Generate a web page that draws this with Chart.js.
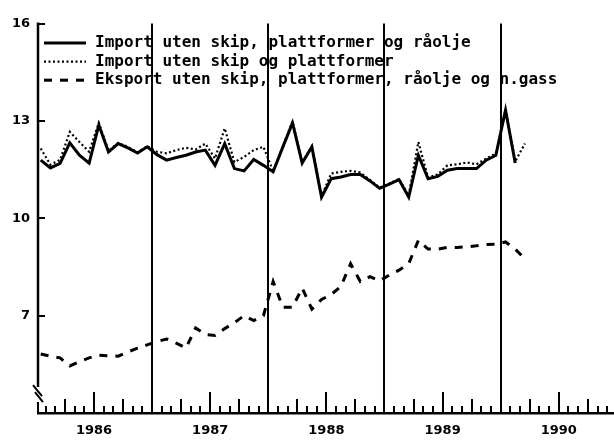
<!DOCTYPE html>
<html><head><meta charset="utf-8">
<script src="https://cdn.jsdelivr.net/npm/chart.js@4/dist/chart.umd.min.js"></script>
<style>html,body{margin:0;padding:0;background:#fff;}canvas{display:block;}</style>
</head><body>
<canvas id="c" width="614" height="441"></canvas>
<script>
// Months, Jan 1986 .. Mar 1990
const months = [
 '1986-01','1986-02','1986-03','1986-04','1986-05','1986-06','1986-07','1986-08','1986-09','1986-10','1986-11','1986-12',
 '1987-01','1987-02','1987-03','1987-04','1987-05','1987-06','1987-07','1987-08','1987-09','1987-10','1987-11','1987-12',
 '1988-01','1988-02','1988-03','1988-04','1988-05','1988-06','1988-07','1988-08','1988-09','1988-10','1988-11','1988-12',
 '1989-01','1989-02','1989-03','1989-04','1989-05','1989-06','1989-07','1989-08','1989-09','1989-10','1989-11','1989-12',
 '1990-01','1990-02','1990-03'
];
const importExShipsPlatformsOil = [
 11.79, 11.55, 11.69, 12.32, 11.94, 11.70, 12.87, 12.04, 12.30, 12.17, 12.01, 12.20,
 11.96, 11.79, 11.87, 11.94, 12.04, 12.10, 11.63, 12.30, 11.53, 11.46, 11.81, 11.63,
 11.43, 12.19, 12.94, 11.70, 12.20, 10.65, 11.22, 11.27, 11.35, 11.35, 11.15, 10.92,
 11.05, 11.19, 10.65, 11.94, 11.22, 11.29, 11.48, 11.53, 11.53, 11.53, 11.79, 11.94,
 13.33, 11.70, null
];
const importExShipsPlatforms = [
 12.15, 11.65, 11.80, 12.66, 12.35, 12.05, 12.94, 12.08, 12.32, 12.20, 12.03, 12.22,
 12.05, 12.00, 12.10, 12.17, 12.12, 12.30, 11.84, 12.77, 11.73, 11.89, 12.10, 12.20,
 11.45, 12.20, 12.99, 11.72, 12.22, 10.68, 11.38, 11.43, 11.46, 11.41, 11.18, 10.94,
 11.07, 11.21, 10.70, 12.35, 11.25, 11.35, 11.63, 11.66, 11.72, 11.66, 11.84, 11.99,
 13.35, 11.75, 12.30
];
const exportExShipsPlatformsOilGas = [
 5.82, 5.75, 5.70, 5.45, 5.58, 5.70, 5.78, 5.76, 5.75, 5.88, 6.00, 6.10,
 6.20, 6.28, 6.15, 6.00, 6.62, 6.42, 6.39, 6.60, 6.78, 7.00, 6.85, 7.00,
 8.05, 7.26, 7.26, 7.85, 7.20, 7.50, 7.65, 7.90, 8.60, 8.05, 8.20, 8.07,
 8.25, 8.40, 8.60, 9.32, 9.05, 9.05, 9.10, 9.10, 9.12, 9.15, 9.19, 9.20,
 9.27, 9.05, 8.75
];
const seriesLabels = [
 'Import uten skip, plattformer og råolje',
 'Import uten skip og plattformer',
 'Eksport uten skip, plattformer, råolje og n.gass'
];
const yearLabels = ['1986', '1987', '1988', '1989', '1990'];
const yTickValues = [7, 10, 13, 16];

// month position (months since Jan 1986, mid-month)
function monthPos(s) {
  const [yy, mm] = s.split('-').map(Number);
  return (yy - 1986) * 12 + (mm - 1) + 0.5;
}
function toPoints(vals) {
  return months.map((m, i) => ({ x: monthPos(m), y: vals[i] }));
}

const FONT_NUM = { family: 'DejaVu Sans', weight: 'bold', size: 13 };

const axisMarks = {
  id: 'axisMarks',
  afterDraw(chart) {
    const { ctx, chartArea: a, scales: { x, y } } = chart;
    const line = (x1, y1, x2, y2) => { ctx.beginPath(); ctx.moveTo(x1, y1); ctx.lineTo(x2, y2); ctx.stroke(); };
    ctx.save();
    ctx.strokeStyle = '#000';
    ctx.lineCap = 'butt';
    ctx.lineWidth = 2;
    for (let m = Math.ceil(x.min); m <= x.max; m++) {
      const r = m % 12;
      if (r === 0) continue;
      const px = Math.round(x.getPixelForValue(m));
      const len = r === 6 ? 21 : (r === 3 || r === 9) ? 14 : 7;
      line(px, a.bottom, px, a.bottom - len);
    }
    yTickValues.forEach(v => {
      const py = Math.round(y.getPixelForValue(v));
      line(a.left, py, a.left + 7, py);
    });
    ctx.lineWidth = 2.5;
    const breakTop = y.getPixelForValue(4.8);
    line(a.left, a.top - 1, a.left, breakTop);
    ctx.lineWidth = 2;
    line(a.left - 5, breakTop - 2, a.left + 4, breakTop + 9);
    line(a.left - 3, breakTop + 5, a.left + 5, breakTop + 15);
    line(a.left, breakTop + 15, a.left, a.bottom);
    ctx.restore();
  }
};

const insideLegend = {
  id: 'insideLegend',
  afterDatasetsDraw(chart) {
    const { ctx, chartArea: a } = chart;
    ctx.save();
    ctx.font = 'bold 16px "DejaVu Sans Mono"';
    ctx.fillStyle = '#000';
    ctx.textBaseline = 'middle';
    ctx.textAlign = 'left';
    chart.data.datasets.forEach((ds, k) => {
      const yy = a.top + 19.5 + k * 18.6;
      const x0 = a.left + 6;
      ctx.strokeStyle = ds.borderColor;
      ctx.lineWidth = ds.borderWidth;
      ctx.setLineDash(ds.borderDash || []);
      ctx.beginPath(); ctx.moveTo(x0, yy); ctx.lineTo(x0 + 42, yy); ctx.stroke();
      ctx.setLineDash([]);
      ctx.fillText(ds.label, a.left + 57, yy);
    });
    ctx.restore();
  }
};

new Chart(document.getElementById('c'), {
  type: 'line',
  data: {
    datasets: [
      { label: seriesLabels[0], data: toPoints(importExShipsPlatformsOil), borderColor: '#000', borderWidth: 3, pointRadius: 0, tension: 0, spanGaps: false },
      { label: seriesLabels[1], data: toPoints(importExShipsPlatforms), borderColor: '#000', borderWidth: 2.2, borderDash: [2, 2.5], pointRadius: 0, tension: 0 },
      { label: seriesLabels[2], data: toPoints(exportExShipsPlatformsOilGas), borderColor: '#000', borderWidth: 3, borderDash: [8, 8], pointRadius: 0, tension: 0 }
    ]
  },
  options: {
    responsive: false,
    animation: false,
    devicePixelRatio: 1,
    layout: { padding: { top: 23.5, right: 0, left: 0, bottom: 0 } },
    plugins: { legend: { display: false }, tooltip: { enabled: false } },
    scales: {
      x: {
        type: 'linear', min: 0.22, max: 59.7,
        afterBuildTicks: s => { s.ticks = []; yearLabels.forEach((_, k) => { if (k > 0) s.ticks.push({ value: k * 12 }); s.ticks.push({ value: k * 12 + 6 }); }); },
        ticks: { autoSkip: false, maxRotation: 0, padding: 10, color: '#000', font: FONT_NUM,
          callback: v => (v % 12 === 6 ? yearLabels[(v - 6) / 12] : '') },
        grid: { drawTicks: false, lineWidth: 2, color: c => (c.tick && c.tick.value % 12 === 0 ? '#000' : 'rgba(0,0,0,0)') },
        border: { display: true, color: '#000', width: 2.5 },
        afterFit: s => { s.height = 28; }
      },
      y: {
        type: 'linear', min: 4, max: 16,
        afterBuildTicks: s => { s.ticks = yTickValues.map(v => ({ value: v })); },
        ticks: { padding: 8, color: '#000', font: FONT_NUM },
        grid: { display: false, drawTicks: false },
        border: { display: false },
        afterFit: s => { s.width = 38; }
      }
    }
  },
  plugins: [axisMarks, insideLegend]
});
</script>
</body></html>
